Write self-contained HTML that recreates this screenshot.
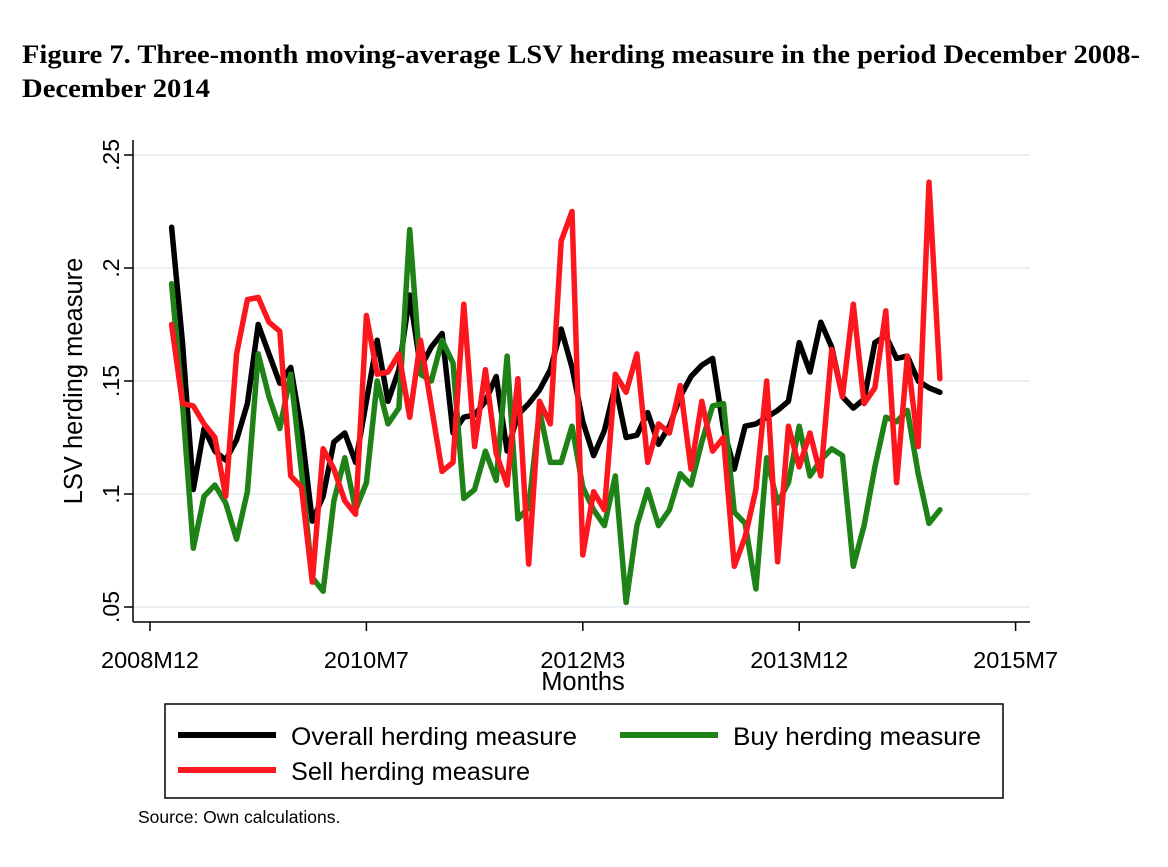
<!DOCTYPE html>
<html><head><meta charset="utf-8"><style>
body{margin:0;background:#fff;width:1168px;height:862px;overflow:hidden}
svg text{font-family:"Liberation Sans",sans-serif}
</style></head><body>
<svg width="1168" height="862">
<text x="22" y="63" font-weight="bold" font-size="26" textLength="1118" lengthAdjust="spacingAndGlyphs" style="font-family:'Liberation Serif',serif">Figure 7. Three-month moving-average LSV herding measure in the period December 2008-</text>
<text x="22" y="97" font-weight="bold" font-size="26" textLength="188" lengthAdjust="spacingAndGlyphs" style="font-family:'Liberation Serif',serif">December 2014</text>
<g id="plot"></g>
<text x="583" y="690" text-anchor="middle" font-size="25.5">Months</text>
<text transform="translate(82,381) rotate(-90)" text-anchor="middle" font-size="25.5">LSV herding measure</text>
<g>
<rect x="165" y="704" width="838" height="94" fill="#fff" stroke="#000" stroke-width="1.5"/>
<line x1="178" y1="735" x2="276" y2="735" stroke="#000" stroke-width="6"/>
<text x="291" y="745" font-size="25.3" textLength="286" lengthAdjust="spacingAndGlyphs">Overall herding measure</text>
<line x1="620" y1="735" x2="718" y2="735" stroke="#1e8216" stroke-width="6"/>
<text x="733" y="745" font-size="25.3" textLength="248" lengthAdjust="spacingAndGlyphs">Buy herding measure</text>
<line x1="178" y1="770" x2="276" y2="770" stroke="#fc171e" stroke-width="6"/>
<text x="291" y="780" font-size="25.3">Sell herding measure</text>
</g>
<text x="138" y="823" font-size="17.5">Source: Own calculations.</text>
</svg>
<script>
const yTicks=[0.05,0.1,0.15,0.2,0.25];
const yTickLabels=[".05",".1",".15",".2",".25"];
const xTickMonths=[0,20,40,60,80];
const xTickLabels=["2008M12","2010M7","2012M3","2013M12","2015M7"];
const overall=[0.218,0.167,0.102,0.129,0.119,0.115,0.124,0.140,0.175,0.162,0.149,0.156,0.128,0.088,0.099,0.123,0.127,0.114,0.141,0.168,0.141,0.155,0.188,0.156,0.165,0.171,0.127,0.134,0.135,0.141,0.152,0.119,0.135,0.140,0.146,0.155,0.173,0.156,0.132,0.117,0.128,0.148,0.125,0.126,0.136,0.122,0.130,0.143,0.152,0.157,0.160,0.129,0.111,0.130,0.131,0.134,0.137,0.141,0.167,0.154,0.176,0.165,0.143,0.138,0.142,0.167,0.170,0.160,0.161,0.150,0.147,0.145];
const buy=[0.193,0.140,0.076,0.099,0.104,0.096,0.080,0.101,0.162,0.143,0.129,0.153,0.110,0.063,0.057,0.097,0.116,0.093,0.105,0.150,0.131,0.138,0.217,0.153,0.150,0.168,0.158,0.098,0.102,0.119,0.106,0.161,0.089,0.094,0.137,0.114,0.114,0.130,0.103,0.093,0.086,0.108,0.052,0.086,0.102,0.086,0.093,0.109,0.104,0.123,0.139,0.140,0.092,0.087,0.058,0.116,0.096,0.105,0.130,0.108,0.115,0.120,0.117,0.068,0.086,0.112,0.134,0.132,0.137,0.109,0.087,0.093];
const sell=[0.175,0.140,0.139,0.131,0.125,0.099,0.162,0.186,0.187,0.176,0.172,0.108,0.103,0.061,0.120,0.111,0.097,0.091,0.179,0.153,0.154,0.162,0.134,0.168,0.139,0.110,0.114,0.184,0.121,0.155,0.118,0.104,0.151,0.069,0.141,0.131,0.212,0.225,0.073,0.101,0.093,0.153,0.145,0.162,0.114,0.131,0.127,0.148,0.111,0.141,0.119,0.125,0.068,0.081,0.102,0.150,0.070,0.130,0.112,0.127,0.108,0.164,0.143,0.184,0.140,0.147,0.181,0.105,0.161,0.121,0.238,0.151];
const NS="http://www.w3.org/2000/svg";
const g=document.getElementById('plot');
function yS(v){return 155+(0.25-v)*2260;}
function xM(m){return 150+m*10.82;}
function mk(t,a){const e=document.createElementNS(NS,t);for(const k in a)e.setAttribute(k,a[k]);g.appendChild(e);return e;}
yTicks.forEach((v,i)=>{
 const gl=mk('line',{x1:133,x2:1030,y1:yS(v),y2:yS(v),stroke:'#eaf0f3','stroke-width':2});
 
 
 const tk=mk('line',{x1:124,x2:133,y1:yS(v),y2:yS(v),stroke:'#000','stroke-width':1.5});
 
 
 const t=mk('text',{transform:`translate(119,${yS(v)}) rotate(-90)`,'text-anchor':'middle','font-size':23});
 t.textContent=yTickLabels[i];
 
 
});
const ya=mk('line',{x1:133,x2:133,y1:140,y2:622,stroke:'#000','stroke-width':1.5});


const xa=mk('line',{x1:133,x2:1030,y1:622,y2:622,stroke:'#000','stroke-width':1.5});


xTickMonths.forEach((m,i)=>{
 const tk=mk('line',{x1:xM(m),x2:xM(m),y1:622,y2:631,stroke:'#000','stroke-width':1.5});
 
 
 const t=mk('text',{x:xM(m),y:668,'text-anchor':'middle','font-size':23.5});
 t.textContent=xTickLabels[i];
 
 
});
function series(arr,col,name){
 const pts=arr.map((v,i)=>xM(2+i).toFixed(1)+','+yS(v).toFixed(1)).join(' ');
 const p=mk('polyline',{points:pts,fill:'none',stroke:col,'stroke-width':5.5,'stroke-linejoin':'round','stroke-linecap':'round'});
 
 
}
series(overall,'#000','overall-line');
series(buy,'#1e8216','buy-line');
series(sell,'#fc171e','sell-line');
</script>
</body></html>
